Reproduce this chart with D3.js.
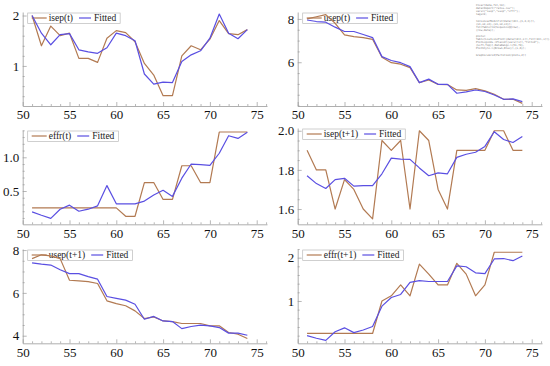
<!DOCTYPE html>
<html><head><meta charset="utf-8">
<script src="https://cdn.jsdelivr.net/npm/d3@7"></script>
<style>
body{margin:0;background:#fff;}
svg{display:block;}
</style></head>
<body>
<svg id="c" width="550" height="366"></svg>
<script>
// ---- data ----
const years = [51,52,53,54,55,56,57,58,59,60,61,62,63,64,65,66,67,68,69,70,71,72,73,74];
const xTicks = [50,55,60,65,70,75];

const isepT    = [2.0,1.40,1.79,1.60,1.65,1.15,1.15,1.07,1.55,1.70,1.66,1.48,1.05,0.82,0.41,0.41,1.20,1.40,1.32,1.53,1.90,1.64,1.62,1.72];
const isepTFit = [2.0,1.65,1.42,1.62,1.64,1.32,1.28,1.25,1.36,1.65,1.60,1.50,0.84,0.64,0.68,0.67,1.09,1.22,1.30,1.55,2.03,1.65,1.54,1.72];

const usepT    = [8.0,8.1,8.2,7.8,7.26,7.18,7.14,7.06,6.23,5.98,5.91,5.75,5.06,5.18,4.98,4.97,4.72,4.70,4.78,4.68,4.52,4.29,4.29,4.10];
const usepTFit = [7.95,7.88,7.85,7.62,7.42,7.42,7.28,7.14,6.26,6.08,5.98,5.80,5.06,5.22,4.98,4.98,4.57,4.63,4.72,4.65,4.49,4.29,4.31,4.18];

const effrT    = [0.25,0.25,0.25,0.25,0.25,0.25,0.25,0.25,0.25,0.25,0.125,0.125,0.625,0.625,0.375,0.375,0.875,0.875,0.625,0.625,1.375,1.375,1.375,1.375];
const effrTFit = [0.19,0.14,0.094,0.23,0.29,0.20,0.23,0.28,0.58,0.31,0.31,0.31,0.35,0.44,0.51,0.42,0.69,0.90,0.89,0.88,1.06,1.32,1.28,1.37];

const isepT1    = [1.90,1.80,1.80,1.60,1.75,1.70,1.60,1.55,1.95,1.90,1.95,1.60,2.0,1.95,1.70,1.60,1.90,1.90,1.90,1.90,2.0,2.0,1.90,1.90];
const isepT1Fit = [1.77,1.73,1.705,1.75,1.757,1.717,1.72,1.72,1.78,1.86,1.855,1.854,1.81,1.77,1.785,1.78,1.864,1.88,1.89,1.92,1.995,1.955,1.94,1.97];

const usepT1    = [7.6,7.78,7.73,7.6,6.59,6.56,6.53,6.44,5.63,5.50,5.40,5.16,4.80,4.88,4.69,4.66,4.57,4.57,4.57,4.46,4.46,4.15,4.07,3.87];
const usepT1Fit = [7.40,7.34,7.30,7.08,6.90,6.90,6.76,6.64,5.83,5.74,5.66,5.47,4.77,4.90,4.69,4.66,4.33,4.43,4.49,4.46,4.38,4.12,4.12,4.02];

const effrT1    = [0.25,0.25,0.25,0.25,0.25,0.25,0.25,0.25,1.0,1.12,1.37,1.12,1.85,1.62,1.37,1.37,1.87,1.62,1.12,1.37,2.125,2.125,2.125,2.125];
const effrT1Fit = [0.20,0.14,0.09,0.29,0.38,0.27,0.33,0.41,0.88,1.08,1.15,1.43,1.47,1.45,1.45,1.45,1.81,1.79,1.65,1.63,1.97,1.98,1.93,2.04];

const seriesLabels = ["isep(t)","usep(t)","effr(t)","isep(t+1)","usep(t+1)","effr(t+1)"];
const fitLabel = "Fitted";

const codeLines = [
  "Clear[data,fit,lm];",
  "data=Import[\"rates.csv\"];",
  "vars={\"isep\",\"usep\",\"effr\"};",
  "lags=2;",
  "",
  "  lm=LinearModelFit[data[[All,{1,2,3}]],",
  "    {x1,x2,x3},{x1,x2,x3}];",
  "  fit=Table[lm[Sequence@@row],",
  "    {row,data}];",
  "",
  "plots=",
  "  Table[ListLinePlot[{data[[All,i]],fit[[All,i]]},",
  "   PlotLegends->Placed[{vars[[i]],\"Fitted\"},",
  "   {Left,Top}],DataRange->{51,74},",
  "   PlotStyle->{Brown,Blue}],{i,6}];",
  "",
  "GraphicsGrid[Partition[plots,2]]"
];

// ---- layout ----
const brown = "#b27a52";
const blue = "#5a4fe2";
const axisCol = "#9a9a9a";

const panels = [
  {ax:22.7,  bottom:106,   top:12,  yd:[0.205,2.07], major:[1,2], minorStep:0.2, fmt:d3.format("d"), s:isepT, f:isepTFit, lab:seriesLabels[0]},
  {ax:297.7, bottom:106,   top:12,  yd:[3.98,8.32], major:[6,8], minorStep:0.5, fmt:d3.format("d"), s:usepT, f:usepTFit, lab:seriesLabels[1]},
  {ax:22.7,  bottom:224.3, top:130, yd:[0.006,1.405], major:[0.5,1.0], minorStep:0.1, fmt:d3.format(".1f"), s:effrT, f:effrTFit, lab:seriesLabels[2]},
  {ax:297.7, bottom:224.3, top:128, yd:[1.522,2.014], major:[1.6,1.8,2.0], minorStep:0.05, fmt:d3.format(".1f"), s:isepT1, f:isepT1Fit, lab:seriesLabels[3]},
  {ax:22.7,  bottom:343.3, top:249, yd:[3.645,8.05], major:[4,6,8], minorStep:0.5, fmt:d3.format("d"), s:usepT1, f:usepT1Fit, lab:seriesLabels[4]},
  {ax:297.7, bottom:343.3, top:249, yd:[0.023,2.2], major:[1,2], minorStep:0.2, fmt:d3.format("d"), s:effrT1, f:effrT1Fit, lab:seriesLabels[5]}
];

const svg = d3.select("#c");
const font = "Liberation Serif, serif";

panels.forEach(p => {
  const x = d3.scaleLinear().domain([50, 76.1]).range([p.ax, p.ax + 244.3]);
  const y = d3.scaleLinear().domain(p.yd).range([p.bottom, p.top]);
  const g = svg.append("g");

  const xMinor = d3.range(50, 76.5, 1).filter(v => !xTicks.includes(v));
  const yMinor = [];
  for (let v = Math.ceil(p.yd[0]/p.minorStep)*p.minorStep; v <= p.yd[1]+1e-9; v += p.minorStep) {
    const r = Math.round(v*1000)/1000;
    if (!p.major.some(m => Math.abs(m - r) < 1e-6)) yMinor.push(r);
  }

  g.append("g").attr("transform", `translate(0,${p.bottom})`)
    .call(d3.axisBottom(x).tickValues(xTicks).tickSize(-4).tickSizeOuter(0).tickPadding(4).tickFormat(d3.format("d")))
    .attr("font-family", font).attr("font-size", 13);
  g.append("g").attr("transform", `translate(0,${p.bottom})`)
    .call(d3.axisBottom(x).tickValues(xMinor).tickSize(-2).tickSizeOuter(0).tickFormat(""))
    .select(".domain").remove();
  g.append("g").attr("transform", `translate(${p.ax},0)`)
    .call(d3.axisLeft(y).tickValues(p.major).tickSize(-4).tickSizeOuter(0).tickPadding(3.5).tickFormat(p.fmt))
    .attr("font-family", font).attr("font-size", 13);
  g.append("g").attr("transform", `translate(${p.ax},0)`)
    .call(d3.axisLeft(y).tickValues(yMinor).tickSize(-2).tickSizeOuter(0).tickFormat(""))
    .select(".domain").remove();

  g.selectAll(".domain").attr("stroke", axisCol).attr("stroke-width", 0.8);
  g.selectAll(".tick line").attr("stroke", axisCol).attr("stroke-width", 0.7);
  g.selectAll(".tick text").attr("fill", "#111");

  // legend
  const lg = g.append("g");
  const lx = p.ax + 5, ly = p.top + 1;
  const t1 = lg.append("text").attr("x", lx + 21).attr("y", ly + 7.8)
    .attr("font-family", font).attr("font-size", 9.5).attr("fill", "#222").text(p.lab);
  const w1 = t1.node().getComputedTextLength();
  const sx2 = lx + 21 + w1 + 6;
  const t2 = lg.append("text").attr("x", sx2 + 15).attr("y", ly + 7.8)
    .attr("font-family", font).attr("font-size", 9.5).attr("fill", "#222").text(fitLabel);
  const w2 = t2.node().getComputedTextLength();
  const bw = sx2 + 15 + w2 + 4 - lx;
  lg.insert("rect", "text").attr("x", lx).attr("y", ly).attr("width", bw).attr("height", 10.5)
    .attr("fill", "#fff").attr("fill-opacity", 0.85).attr("stroke", "#bbb").attr("stroke-width", 0.7);
  lg.append("line").attr("x1", lx + 4).attr("x2", lx + 19).attr("y1", ly + 5).attr("y2", ly + 5)
    .attr("stroke", brown).attr("stroke-width", 1.2);
  lg.append("line").attr("x1", sx2).attr("x2", sx2 + 12).attr("y1", ly + 5).attr("y2", ly + 5)
    .attr("stroke", blue).attr("stroke-width", 1.2);

  const line = d3.line().x((d, i) => x(years[i])).y(d => y(d));
  g.append("path").datum(p.s).attr("d", line).attr("fill", "none")
    .attr("stroke", brown).attr("stroke-width", 1.2).attr("stroke-linejoin", "round");
  g.append("path").datum(p.f).attr("d", line).attr("fill", "none")
    .attr("stroke", blue).attr("stroke-width", 1.2).attr("stroke-linejoin", "round");
});

// faint code snippet in the top-right corner
const cg = svg.append("g");
codeLines.forEach((t, i) => {
  cg.append("text").attr("x", 476).attr("y", 6 + i * 3.1)
    .attr("font-family", "DejaVu Sans Mono, monospace").attr("font-size", 2.6)
    .attr("fill", "#777").text(t);
});
</script>
</body></html>
